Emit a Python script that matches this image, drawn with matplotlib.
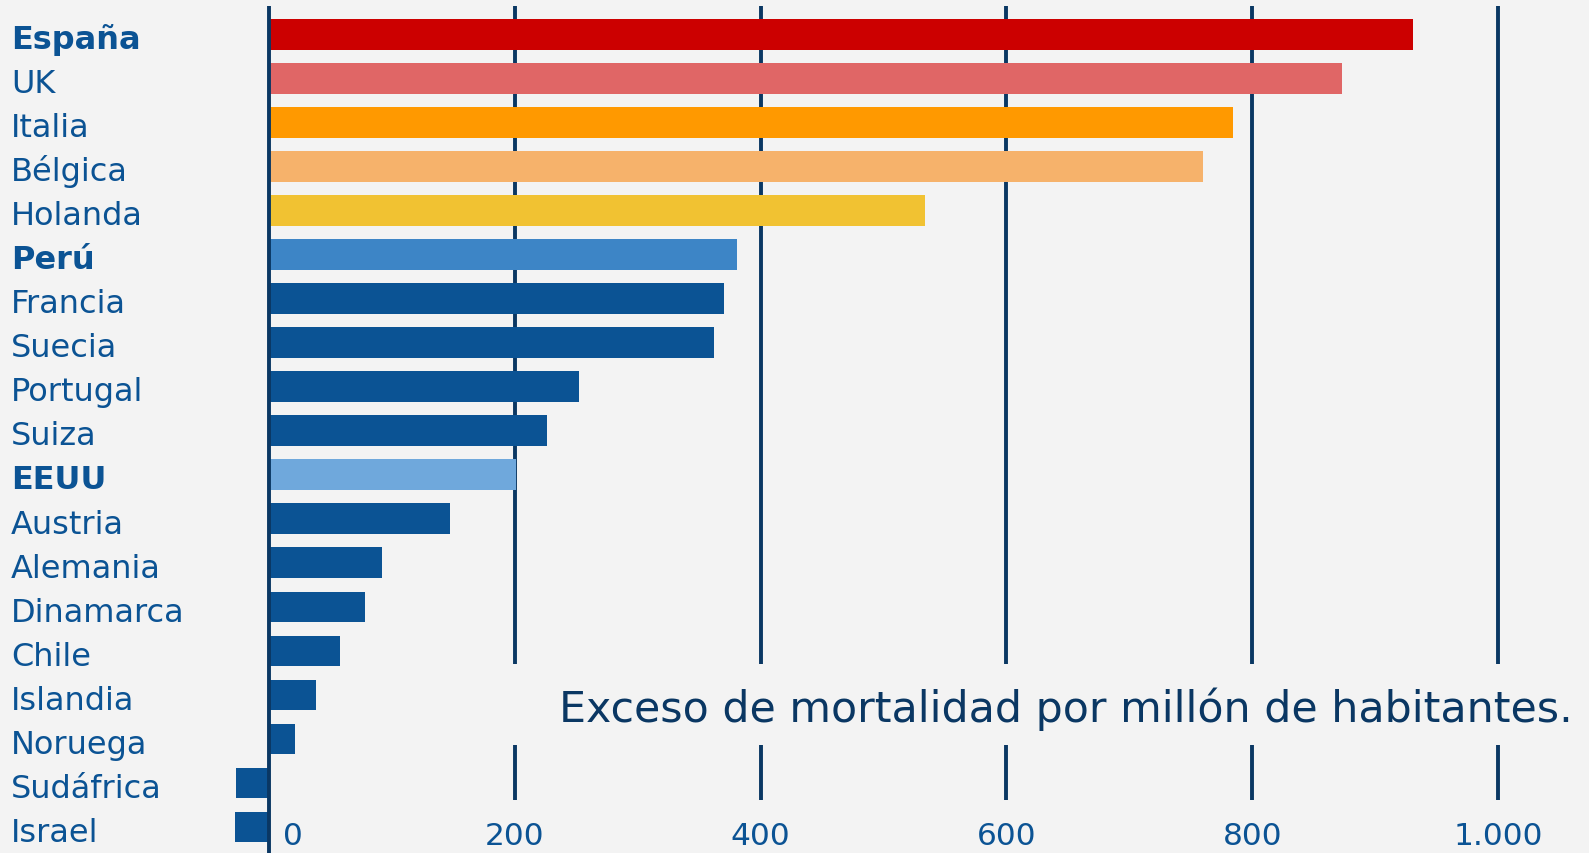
import matplotlib
matplotlib.use("Agg")
import matplotlib.pyplot as plt
from matplotlib.transforms import blended_transform_factory, ScaledTranslation

# datos: exceso de mortalidad por millón de habitantes
paises = ["España", "UK", "Italia", "Bélgica", "Holanda", "Perú", "Francia",
          "Suecia", "Portugal", "Suiza", "EEUU", "Austria", "Alemania",
          "Dinamarca", "Chile", "Islandia", "Noruega", "Sudáfrica", "Israel"]
valores = [931, 873, 784, 760, 534, 381, 370, 362, 252, 226, 201, 147, 92,
           78, 58, 38, 21, -27, -28]
colores = ["#cc0000", "#e06666", "#ff9900", "#f6b26b", "#f1c232", "#3d85c6",
           "#0b5394", "#0b5394", "#0b5394", "#0b5394", "#6fa8dc", "#0b5394",
           "#0b5394", "#0b5394", "#0b5394", "#0b5394", "#0b5394", "#0b5394",
           "#0b5394"]
negrita = ["España", "Perú", "EEUU"]
ticks = [0, 200, 400, 600, 800, 1000]
tick_labels = ["0", "200", "400", "600", "800", "1.000"]

BG = "#f3f3f3"
DARK = "#0a3763"
TXT = "#0b5394"

fig = plt.figure(figsize=(15.89, 8.54), dpi=100, facecolor=BG)
ax = fig.add_axes([0, 0, 1, 847 / 854])
ax.set_facecolor(BG)
ax.axis("off")

px = (1498 - 269) / 1000.0
ax.set_xlim(-269 / px, (1589 - 269) / px)
ax.set_ylim(18.59, -0.65)

# rejilla vertical, cortada alrededor del título
ax.vlines(ticks[1:], -0.65, 14.3, color=DARK, lw=2.8, zorder=1)
ax.vlines(ticks[1:], 16.14, 17.39, color=DARK, lw=2.8, zorder=1)

y = list(range(len(paises)))
ax.barh(y, valores, height=0.70, color=colores, zorder=2)
ax.axvline(0, color=DARK, lw=2.8, zorder=3)

tr = blended_transform_factory(ax.transAxes, ax.transData)
for i, p in enumerate(paises):
    ax.text(0.0069, i + 0.31, p, transform=tr, ha="left", va="baseline",
            fontsize=23, color=TXT,
            fontweight="bold" if p in negrita else "normal")

trx = blended_transform_factory(ax.transData, ax.transAxes)
for t, lab in zip(ticks, tick_labels):
    tt = trx
    if t == 0:
        tt = trx + ScaledTranslation(0.24, 0, fig.dpi_scale_trans)
    ax.text(t, 0.0106, lab, transform=tt, ha="center", va="baseline",
            fontsize=22.5, color=TXT)

fig.text(1573 / 1589, (854 - 722) / 854,
         "Exceso de mortalidad por millón de habitantes.",
         ha="right", va="baseline", fontsize=30.8, color=DARK)

fig.savefig("out.png", dpi=100, facecolor=BG)
